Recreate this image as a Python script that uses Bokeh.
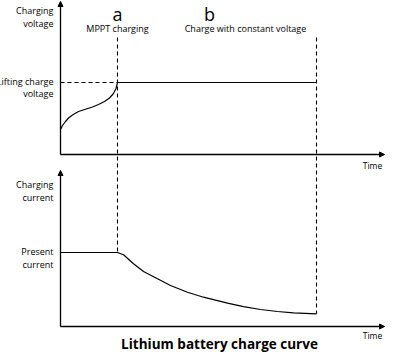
from bokeh.plotting import figure
from bokeh.models import Range1d, Label, Arrow, NormalHead
from bokeh.embed import file_html
from bokeh.resources import INLINE

# ---- data (schematic units: time from origin, value above its axis) ----
v_time = [0, 2, 5, 8, 12, 18, 25, 32, 38, 44, 49, 53, 55.5, 57]
v_vals = [25, 29, 33, 36.5, 39.5, 43, 45.3, 47.5, 50, 53, 56.5, 61, 66, 72]
cv_time = [57, 256]
cv_vals = [72, 72]
float_v = 72

i_time = [0, 57, 63, 73, 83, 97, 110, 127, 143, 167, 183, 200, 217, 233, 256]
i_vals = [74, 74, 71.7, 62.7, 55, 47.7, 41, 34.3, 29.3, 23.3, 19.8, 17, 15, 13.7, 12.7]

stage_a = 57
stage_b_end = 256

FONT = "Open Sans"

p = figure(width=398, height=364, output_backend="svg", toolbar_location=None,
           x_range=Range1d(0, 398), y_range=Range1d(364, 0),
           min_border=0, outline_line_color=None)
p.axis.visible = False
p.grid.visible = False
p.background_fill_color = "white"

p.extra_x_ranges = {"t": Range1d(-60, 338)}
p.extra_y_ranges = {"v": Range1d(-210, 154), "i": Range1d(-38, 326)}

AX_TOP = 154
AX_BOT = 326
X0 = 60

def arrow(x0, y0, x1, y1):
    p.add_layout(Arrow(end=NormalHead(size=5, fill_color="black", line_color="black"),
                       x_start=x0, y_start=y0, x_end=x1, y_end=y1,
                       line_color="black", line_width=1.3))

# axes
arrow(X0, AX_TOP, X0, 1)
arrow(X0, AX_TOP, 384, AX_TOP)
arrow(X0, AX_BOT, X0, 170)
arrow(X0, AX_BOT, 384, AX_BOT)

# voltage curves
p.line(v_time, v_vals, x_range_name="t", y_range_name="v", line_color="black", line_width=1.2)
p.line(cv_time, cv_vals, x_range_name="t", y_range_name="v", line_color="black", line_width=1.2)
p.line([0, stage_a], [float_v, float_v], x_range_name="t", y_range_name="v",
       line_color="black", line_width=1.1, line_dash="4 3")

# current curve
p.line(i_time, i_vals, x_range_name="t", y_range_name="i", line_color="black", line_width=1.2)

# stage dashed lines (from top label area down to the current curve)
ya_end = AX_BOT - i_vals[1]
yb_end = AX_BOT - i_vals[-1]
p.line([X0 + stage_a] * 2, [37, ya_end], line_color="black", line_width=1.1, line_dash="4 3")
p.line([X0 + stage_b_end] * 2, [37, yb_end], line_color="black", line_width=1.1, line_dash="4 3")

def lab(x, y, t, size, align="center", bold=False, color="black"):
    p.add_layout(Label(x=x, y=y, text=t, text_font=FONT, text_font_size=f"{size}px",
                       text_align=align, text_baseline="middle",
                       text_font_style="bold" if bold else "normal", text_color=color))

lab(53, 10, "Charging", 9, "right")
lab(53, 23, "voltage", 9, "right")
lab(53, 81, "Lifting charge", 9, "right")
lab(53, 93, "voltage", 9, "right")
lab(53, 184, "Charging", 9, "right")
lab(53, 197, "current", 9, "right")
lab(53, 251, "Present", 9, "right")
lab(53, 264, "current", 9, "right")
lab(372, 165, "Time", 8.5)
lab(372, 335, "Time", 8.5)
lab(117, 13, "a", 18)
lab(209, 13, "b", 18)
lab(117, 28, "MPPT charging", 9)
lab(245, 28, "Charge with constant voltage", 9)
lab(219, 343, "Lithium battery charge curve", 13.5, bold=True)

open("out.html", "w").write(file_html(p, INLINE))
